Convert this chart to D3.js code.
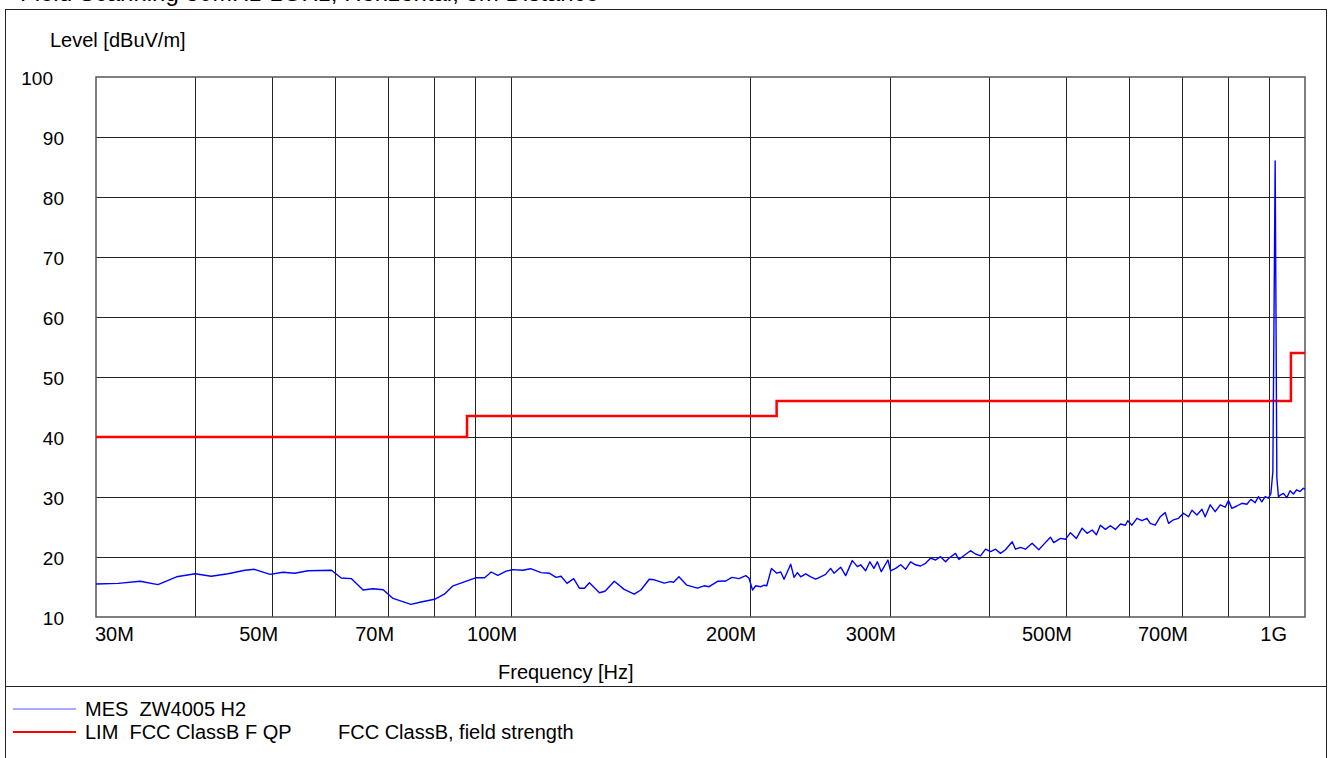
<!DOCTYPE html>
<html>
<head>
<meta charset="utf-8">
<script src="https://cdn.jsdelivr.net/npm/d3@7"></script>
<style>
  body { margin: 0; background: #fff; }
  text { font-family: 'Liberation Sans', Arial, sans-serif; font-size: 20px; fill: #000; white-space: pre; }
</style>
</head>
<body>
<svg id="chart" width="1336" height="758"></svg>
<script>
const width = 1336
const height = 758
const plot = { left: 96, right: 1305, top: 77, bottom: 617 }

// measured level (MES), frequency in MHz
const mesFreq = [
  30.0, 32.0, 34.1, 35.9, 37.9, 40.0, 41.9, 44.0, 46.2, 47.5, 49.7, 51.6, 53.4, 55.5, 59.4,
  61.1, 62.9, 65.1, 67.0, 69.0, 71.0, 74.8, 77.0, 80.1, 82.4, 84.5, 88.2, 90.4, 92.6, 94.4,
  96.2, 98.6, 100.5, 103.4, 105.8, 109.1, 111.7, 113.9, 115.6, 117.6, 119.9, 121.9, 123.7, 125.5, 129.2,
  131.3, 134.9, 138.8, 142.9, 145.7, 149.3, 151.5, 155.9, 158.7, 160.2, 162.7, 166.5, 171.7, 175.0, 177.6,
  182.0, 186.4, 189.7, 193.7, 197.5, 199.4, 201.4, 203.3, 206.3, 208.3, 209.9, 212.8, 216.1, 218.6, 220.7,
  225.0, 227.2, 229.4, 231.6, 235.0, 238.5, 241.9, 245.4, 249.0, 252.6, 255.1, 260.1, 263.9,
  269.0, 273.0, 275.6, 279.6, 283.1, 286.4, 289.3, 292.6, 298.3, 300.6, 305.0, 309.5, 314.0, 318.5, 323.2,
  327.9, 332.7, 337.5, 342.5, 347.5, 352.6, 355.9, 362.9, 366.4, 371.7, 379.0, 384.6, 390.2, 395.9, 401.7,
  407.6, 413.5, 419.5, 427.8, 431.8, 438.1, 444.5, 453.2, 462.0, 468.7, 477.9, 482.5, 492.0, 499.2, 506.5,
  515.3, 523.9, 531.6, 539.4, 546.1, 552.4, 560.5, 568.7, 577.0, 585.5, 594.0, 598.0, 605.3, 614.2, 623.2,
  632.3, 638.3, 647.6, 657.1, 666.7, 673.2, 682.8, 692.8, 703.0, 713.3, 720.4, 730.9, 741.6, 748.6, 759.6,
  770.7, 782.0, 793.4, 800.9, 808.9, 820.7, 832.7, 844.9, 854.7, 865.4, 873.8, 882.3, 890.9, 899.3, 905.8,
  911.0, 917.1, 921.6, 925.9, 930.6, 939.4, 948.7, 957.7, 967.0, 976.1, 985.6, 995.2, 1000
]
const mesLevel = [
  15.5, 15.6, 15.95, 15.4, 16.7, 17.2, 16.8, 17.2, 17.8, 17.95, 17.1, 17.45, 17.3, 17.7, 17.8,
  16.5, 16.4, 14.5, 14.7, 14.55, 13.1, 12.1, 12.5, 12.95, 13.8, 15.2, 16.05, 16.55, 16.55, 17.5,
  16.95, 17.65, 17.9, 17.8, 18.05, 17.4, 17.3, 16.6, 16.8, 15.6, 16.4, 14.8, 14.8, 15.7, 14.05,
  14.3, 15.95, 14.6, 13.8, 14.5, 16.3, 16.2, 15.65, 15.9, 15.8, 16.7, 15.3, 14.8, 15.2, 15.05,
  15.95, 16.0, 16.6, 16.4, 16.9, 16.45, 14.5, 15.2, 15.05, 15.3, 15.2, 18.1, 17.3, 17.5, 16.3,
  18.8, 16.6, 17.4, 16.7, 17.2, 16.7, 16.3, 16.7, 17.1, 18.1, 17.3, 18.3, 16.9,
  19.4, 18.4, 18.7, 17.7, 19.2, 18.1, 19.2, 17.55, 19.5, 17.7, 18.1, 18.7, 17.95, 19.2, 18.7,
  18.5, 18.95, 19.8, 19.5, 20.05, 19.2, 19.8, 20.6, 19.6, 20.2, 21.05, 20.5, 20.2, 21.3, 20.9,
  21.3, 20.6, 21.2, 22.55, 21.3, 21.6, 21.3, 22.3, 21.2, 22.1, 23.3, 22.4, 23.1, 22.95, 24.05,
  23.1, 24.8, 23.95, 24.5, 23.7, 25.3, 24.6, 25.2, 24.6, 25.5, 25.3, 26.05, 25.3, 26.45, 26.05,
  26.45, 25.6, 25.3, 26.7, 27.4, 25.6, 26.2, 26.45, 27.3, 26.7, 27.8, 27.0, 27.95, 26.7, 28.7,
  27.55, 28.7, 28.3, 29.4, 28.1, 28.5, 28.95, 28.8, 29.6, 29.05, 30.05, 29.2, 30.05, 29.8, 30.6,
  34.2, 86.0, 33.2, 30.05, 30.3, 30.6, 29.9, 31.05, 30.5, 31.2, 30.9, 31.45, 31.3
]

// FCC class B limit (LIM), step after each breakpoint
const limFreq = [30, 88, 216, 960, 1000]
const limLevel = [40, 43.5, 46, 54, 54]

const yTicks = [10, 20, 30, 40, 50, 60, 70, 80, 90, 100]
const xGrid = [40, 50, 60, 70, 80, 90, 100, 200, 300, 400, 500, 600, 700, 800, 900]
const xLabelValues = [30, 50, 70, 100, 200, 300, 500, 700, 1000]
const xLabelText = ['30M', '50M', '70M', '100M', '200M', '300M', '500M', '700M', '1G']

const svg = d3.select('#chart')

const x = d3.scaleLog().domain([30, 1000]).range([plot.left, plot.right])
const y = d3.scaleLinear().domain([10, 100]).range([plot.bottom, plot.top])
const px = v => Math.round(v) + 0.5

// outer frame + legend separator
svg.append('rect')
  .attr('x', 5.5).attr('y', 9.5)
  .attr('width', 1321).attr('height', 770)
  .attr('fill', 'none').attr('stroke', '#222').attr('stroke-width', 1)
svg.append('line')
  .attr('x1', 5).attr('x2', 1326).attr('y1', 686.5).attr('y2', 686.5)
  .attr('stroke', '#222').attr('stroke-width', 1)

// title, cut off by the top of the picture
svg.append('text')
  .attr('x', 20).attr('y', 1)
  .style('font-size', '24px')
  .text('Field Scanning 30MHz-1GHz, Horizontal, 3m Distance')

// grid
svg.append('g').selectAll('line').data(yTicks.slice(1, -1)).enter()
  .append('line')
  .attr('x1', plot.left).attr('x2', plot.right)
  .attr('y1', d => px(y(d))).attr('y2', d => px(y(d)))
  .attr('stroke', '#222').attr('stroke-width', 1)

svg.append('g').selectAll('line').data(xGrid).enter()
  .append('line')
  .attr('x1', d => px(x(d))).attr('x2', d => px(x(d)))
  .attr('y1', plot.top).attr('y2', plot.bottom)
  .attr('stroke', '#222').attr('stroke-width', 1)

svg.append('rect')
  .attr('x', plot.left).attr('y', plot.top)
  .attr('width', plot.right - plot.left).attr('height', plot.bottom - plot.top)
  .attr('fill', 'none').attr('stroke', '#555').attr('stroke-width', 1.5)

// y labels
svg.append('g').selectAll('text').data(yTicks).enter()
  .append('text')
  .attr('x', d => d === 100 ? 53 : 64)
  .attr('y', d => y(d) + 8)
  .attr('text-anchor', 'end')
  .style('font-size', '19px')
  .text(d => d)

svg.append('text').attr('x', 50).attr('y', 47).text('Level [dBuV/m]')

// x labels
svg.append('g').selectAll('text').data(xLabelValues).enter()
  .append('text')
  .attr('x', (d, i) => i === 0 ? x(d) - 1 : Math.min(x(d) + 6, plot.right - 18))
  .attr('y', 641)
  .attr('text-anchor', (d, i) => i === 0 ? 'start' : 'end')
  .text((d, i) => xLabelText[i])

svg.append('text').attr('x', 498).attr('y', 679).text('Frequency [Hz]')

// series
const clip = svg.append('clipPath').attr('id', 'plotClip')
clip.append('rect')
  .attr('x', plot.left).attr('y', plot.top)
  .attr('width', plot.right - plot.left).attr('height', plot.bottom - plot.top)

const mes = mesFreq.map((f, i) => ({ f, v: mesLevel[i] }))
const lim = limFreq.map((f, i) => ({ f, v: limLevel[i] }))

svg.append('path')
  .datum(lim)
  .attr('clip-path', 'url(#plotClip)')
  .attr('d', d3.line().x(d => x(d.f)).y(d => y(d.v)).curve(d3.curveStepAfter))
  .attr('fill', 'none')
  .attr('stroke', '#ff0000')
  .attr('stroke-width', 2.5)

svg.append('path')
  .datum(mes)
  .attr('clip-path', 'url(#plotClip)')
  .attr('d', d3.line().x(d => x(d.f)).y(d => y(d.v)))
  .attr('fill', 'none')
  .attr('stroke', '#0000ff')
  .attr('stroke-width', 1.4)
  .attr('stroke-linejoin', 'round')

// legend
const legend = [
  { color: '#5555ff', w: 1, label: 'MES  ZW4005 H2', note: '' },
  { color: '#ff0000', w: 2, label: 'LIM  FCC ClassB F QP', note: 'FCC ClassB, field strength' }
]
const lg = svg.append('g').selectAll('g').data(legend).enter()
  .append('g')
  .attr('transform', (d, i) => 'translate(0,' + (709 + i * 23) + ')')
lg.append('line')
  .attr('x1', 13).attr('x2', 76).attr('y1', 0).attr('y2', 0)
  .attr('stroke', d => d.color).attr('stroke-width', d => d.w)
lg.append('text').attr('x', 85).attr('y', 7).text(d => d.label)
lg.append('text').attr('x', 338).attr('y', 7).text(d => d.note)
</script>
</body>
</html>
